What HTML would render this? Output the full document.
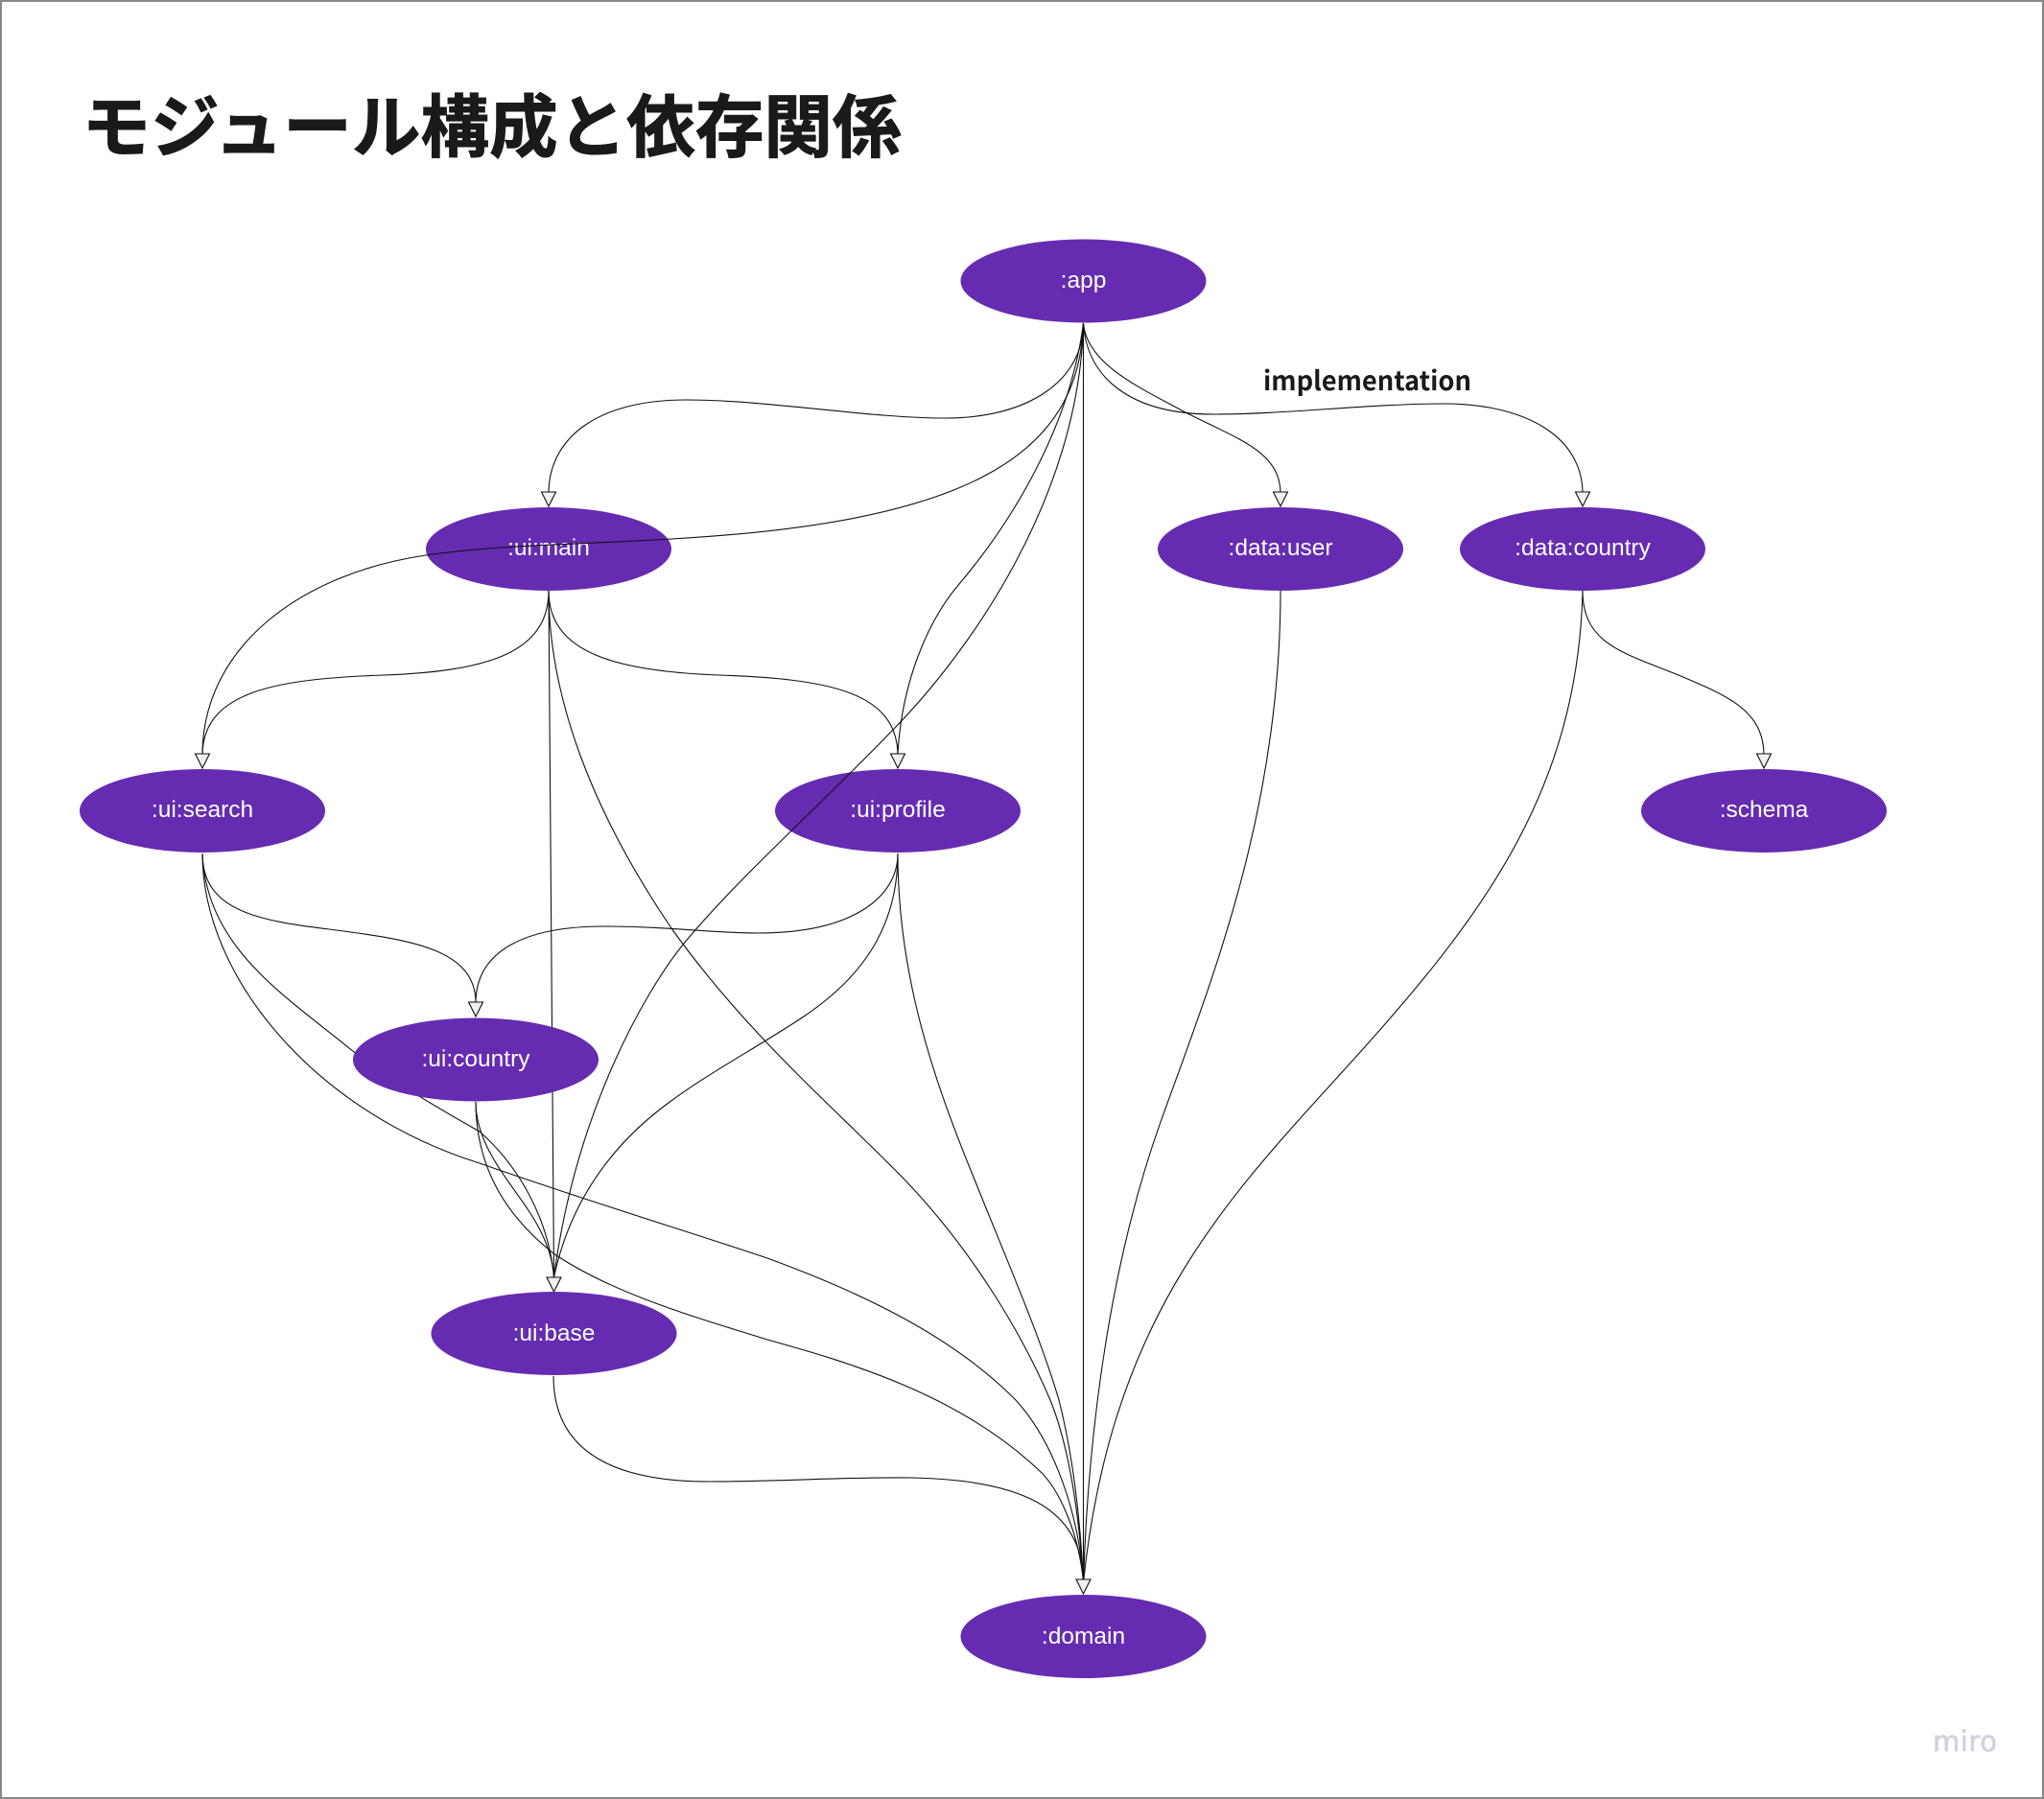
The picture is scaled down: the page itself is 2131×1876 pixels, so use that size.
<!DOCTYPE html>
<html lang="ja"><head><meta charset="utf-8"><title>モジュール構成と依存関係</title>
<style>html,body{margin:0;padding:0;background:#fff}svg{display:block}
.n{fill:#652cb1}.l{fill:#fff;font:24.5px "Liberation Sans",sans-serif;text-anchor:middle}
.e path{fill:none;stroke:#111;stroke-width:1.1}
.a path{fill:#f0f0f0;stroke:#111;stroke-width:1.1}</style></head><body>
<svg width="2131" height="1876" viewBox="0 0 2131 1876" xmlns="http://www.w3.org/2000/svg">
<rect x="1" y="1" width="2129" height="1874" fill="#fff" stroke="#888" stroke-width="2"/>
<text x="85.5" y="158" font-family="'Liberation Sans','Noto Sans CJK JP',sans-serif" font-weight="700" font-size="71.6" fill="#1a1a1a" stroke="#1a1a1a" stroke-width="1">モジュール構成と依存関係</text>
<text x="1317" y="407" font-family="'Noto Sans CJK JP','Liberation Sans',sans-serif" font-weight="700" font-size="28" fill="#1a1a1a" textLength="217" lengthAdjust="spacingAndGlyphs">implementation</text>
<text x="2015" y="1826" font-family="'DejaVu Sans',sans-serif" font-size="29" fill="#d2d2e0" stroke="#d2d2e0" stroke-width="0.8" textLength="67">miro</text>
<ellipse class="n" cx="572" cy="572.5" rx="128" ry="43.5"/><text class="l" x="572" y="579">:ui:main</text>
<ellipse class="n" cx="936" cy="845.5" rx="128" ry="43.5"/><text class="l" x="936" y="852">:ui:profile</text>
<g class="e">
<path d="M1129.5 337C1129.5 395 1075 436 985 436C905 436 800 417 715 417C625 417 572 455 572 515"/>
<path d="M1129.5 337C1125 480 1000 545 700 562C600 568 520 568 444 579C320 597 211 670 211 788"/>
<path d="M1129.5 337C1115 450 1050 550 1000 609C965 650 940 715 936 786"/>
<path d="M1129.5 337C1125 520 1010 680 932 760C850 845 770 915 712 985C672 1035 600 1160 577.5 1332"/>
<path d="M1129.5 337V1650"/>
<path d="M1129.5 337C1133 380 1190 405 1232 428C1290 458 1335 470 1335 515"/>
<path d="M1129.5 337C1133 395 1180 432 1265 432C1340 432 1430 421 1505 421C1590 421 1650 455 1650 515"/>
<path d="M572 616C572 680 510 700 400 704C290 708 211 720 211 788"/>
<path d="M572 616C572 680 640 700 750 704C860 708 936 720 936 788"/>
<path d="M572 616L577.5 1332"/>
<path d="M572 616C572 730 620 850 700 968C780 1080 870 1155 943 1230C1010 1300 1063 1385 1095 1460C1115 1510 1125 1580 1129.5 1650"/>
<path d="M211 890C211 950 270 960 343 969C430 980 496 990 496 1046"/>
<path d="M936 890C936 935 890 973 790 973C740 973 700 966 630 966C550 966 496 990 496 1046"/>
<path d="M936 890C936 975 890 1025 838 1060C790 1092 740 1118 697 1150C640 1192 595 1250 577.5 1332"/>
<path d="M936 890C936 1020 975 1130 1016 1230C1050 1315 1085 1395 1104 1460C1118 1515 1126 1580 1129.5 1650"/>
<path d="M211 890C215 990 300 1040 369 1097C420 1135 465 1160 500 1180C540 1215 572 1270 577.5 1332"/>
<path d="M211 890C211 1020 330 1160 500 1213C620 1255 720 1285 800 1312C890 1345 990 1390 1059 1460C1100 1505 1125 1580 1129.5 1650"/>
<path d="M496 1149C496 1200 540 1240 560 1277C570 1295 577 1315 577.5 1332"/>
<path d="M496 1149C496 1220 530 1270 577 1307C640 1350 730 1375 800 1397C890 1422 1000 1455 1083 1533C1105 1553 1125 1600 1129.5 1650"/>
<path d="M577 1435C577 1520 650 1545 740 1545C820 1545 880 1540 950 1541C1060 1543 1129 1570 1129.5 1650"/>
<path d="M1335 616C1335 850 1260 1030 1210 1170C1160 1310 1135 1480 1129.5 1650"/>
<path d="M1650 616C1645 820 1550 950 1420 1095C1290 1240 1160 1360 1129.5 1650"/>
<path d="M1650 616C1650 670 1690 680 1745 702C1800 725 1839 740 1839 788"/>
</g>
<g class="a">
<path d="M564.5 513H579.5L572 528Z"/>
<path d="M1327.5 513H1342.5L1335 528Z"/>
<path d="M1642.5 513H1657.5L1650 528Z"/>
<path d="M203.5 786H218.5L211 801Z"/>
<path d="M928.5 786H943.5L936 801Z"/>
<path d="M1831.5 786H1846.5L1839 801Z"/>
<path d="M488.5 1045H503.5L496 1060Z"/>
<path d="M570 1332H585L577.5 1347Z"/>
<path d="M1122 1647H1137L1129.5 1662Z"/>
</g>
<ellipse class="n" cx="1129.5" cy="293" rx="128" ry="43.5"/><text class="l" x="1129.5" y="300">:app</text>
<ellipse class="n" cx="1335" cy="572.5" rx="128" ry="43.5"/><text class="l" x="1335" y="579">:data:user</text>
<ellipse class="n" cx="1650" cy="572.5" rx="128" ry="43.5"/><text class="l" x="1650" y="579">:data:country</text>
<ellipse class="n" cx="211" cy="845.5" rx="128" ry="43.5"/><text class="l" x="211" y="852">:ui:search</text>
<ellipse class="n" cx="1839" cy="845.5" rx="128" ry="43.5"/><text class="l" x="1839" y="852">:schema</text>
<ellipse class="n" cx="496" cy="1105" rx="128" ry="43.5"/><text class="l" x="496" y="1112">:ui:country</text>
<ellipse class="n" cx="577.5" cy="1390.5" rx="128" ry="43.5"/><text class="l" x="577.5" y="1398">:ui:base</text>
<ellipse class="n" cx="1129.5" cy="1706.5" rx="128" ry="43.5"/><text class="l" x="1129.5" y="1714">:domain</text>
</svg></body></html>
